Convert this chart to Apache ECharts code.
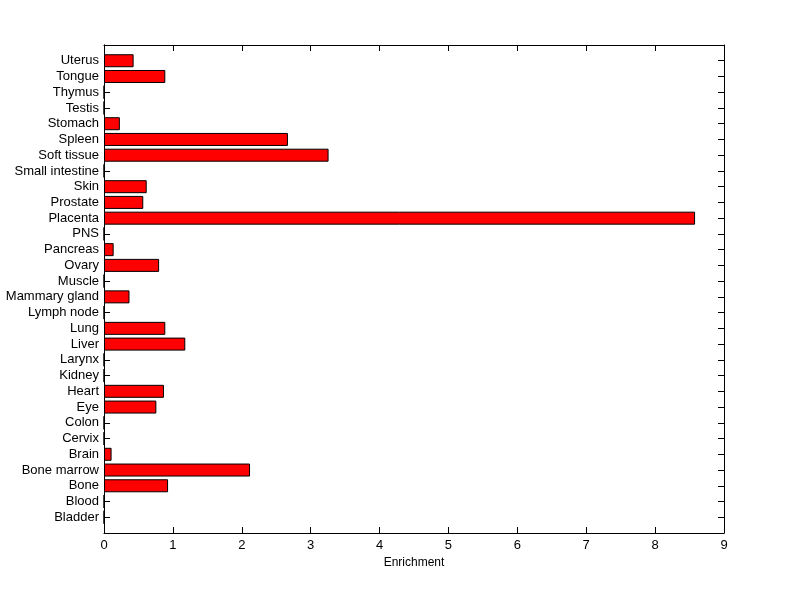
<!DOCTYPE html>
<html>
<head>
<meta charset="utf-8">
<script src="https://cdn.jsdelivr.net/npm/echarts@6/dist/echarts.min.js"></script>
<style>html,body{margin:0;padding:0;background:#fff}#c{width:800px;height:599px}</style>
</head>
<body>
<div id="c"></div>
<script>
const tissues = ['Bladder','Blood','Bone','Bone marrow','Brain','Cervix','Colon','Eye','Heart','Kidney','Larynx','Liver','Lung','Lymph node','Mammary gland','Muscle','Ovary','Pancreas','PNS','Placenta','Prostate','Skin','Small intestine','Soft tissue','Spleen','Stomach','Testis','Thymus','Tongue','Uterus'];
const enrichment = [0,0,0.93,2.12,0.11,0,0,0.76,0.87,0,0,1.18,0.89,0,0.37,0,0.80,0.14,0,8.58,0.57,0.62,0,3.26,2.67,0.23,0,0,0.89,0.43];
const xTicks = [0,1,2,3,4,5,6,7,8,9];
const xLabel = 'Enrichment';

const cats = [''].concat(tissues, ['']);
const vals = ['-'].concat(enrichment, ['-']);
const font = 'Liberation Sans, Arial, sans-serif';
const black = {color:'#000',width:1};
const chart = echarts.init(document.getElementById('c'));
const tickAxisY = (pos) => ({
  type:'value',min:0,max:cats.length-1,interval:1,position:pos,
  axisLine:{show:true,onZero:false,lineStyle:black},
  axisTick:{show:true,inside:true,length:6,lineStyle:black},
  axisLabel:{show:false},splitLine:{show:false}
});
chart.setOption({
  animation:false,
  backgroundColor:'#fff',
  grid:{left:104,right:76,top:45,bottom:66,containLabel:false},
  xAxis:[{
    type:'value',min:xTicks[0],max:xTicks[xTicks.length-1],interval:1,position:'bottom',
    name:xLabel,nameLocation:'middle',nameGap:24,
    nameTextStyle:{color:'#000',fontFamily:font,fontSize:12},
    axisLine:{show:true,onZero:false,lineStyle:black},
    axisTick:{show:true,inside:true,length:6,lineStyle:black},
    axisLabel:{color:'#000',fontFamily:font,fontSize:13,margin:6},
    splitLine:{show:false}
  },{
    type:'value',min:xTicks[0],max:xTicks[xTicks.length-1],interval:1,position:'top',
    axisLine:{show:true,onZero:false,lineStyle:black},
    axisTick:{show:true,inside:true,length:6,lineStyle:black},
    axisLabel:{show:false},splitLine:{show:false}
  }],
  yAxis:[{
    type:'category',data:cats,boundaryGap:false,position:'left',
    axisLine:{show:true,onZero:false,lineStyle:black},
    axisTick:{show:false},
    axisLabel:{color:'#000',fontFamily:font,fontSize:13,margin:5,interval:0},
    splitLine:{show:false}
  }, tickAxisY('left'), tickAxisY('right')],
  series:[{
    type:'bar',xAxisIndex:0,yAxisIndex:0,data:vals,barWidth:13,
    itemStyle:{color:'#ff0000',borderColor:'#000',borderWidth:1}
  }]
});
</script>
</body>
</html>
